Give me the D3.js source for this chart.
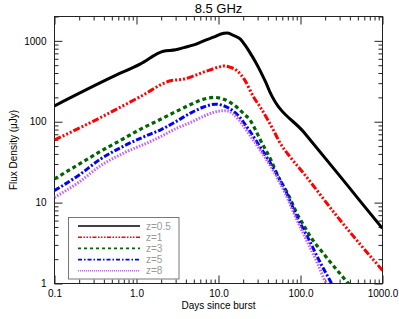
<!DOCTYPE html>
<html>
<head>
<meta charset="utf-8">
<script src="https://cdn.jsdelivr.net/npm/d3@7"></script>
<style>
  body { margin: 0; background: #fff; }
  svg { display: block; }
  text { font-family: "Liberation Sans", Arial, Helvetica, sans-serif; }
</style>
</head>
<body>
<svg id="chart" width="399" height="319"></svg>
<script>
// ---------------- data ----------------
const chartTitle = "8.5 GHz";
const xLabel = "Days since burst";
const yLabel = "Flux Density (\u03bcJy)";
const seriesLabels = ["z=0.5", "z=1", "z=3", "z=5", "z=8"];
const seriesColors = ["#000000", "#ff0000", "#006400", "#0000ff", "#c060ff"];

const xTickValues = [0.1, 1, 10, 100, 1000];
const xTickLabels = ["0.1", "1.0", "10.0", "100.0", "1000.0"];
const yTickValues = [1, 10, 100, 1000];
const yTickLabels = ["1", "10", "100", "1000"];

const days_z05 = [0.1, 0.5, 1.12, 2.13, 3.0, 3.78, 5.0, 6.6, 8.7, 11.6, 12.9, 15.4, 18.5, 21, 24.5, 28.5, 32.5, 37.5, 42, 110, 281, 540, 1000];
const flux_z05 = [157, 355, 520, 745, 775, 825, 890, 1000, 1110, 1240, 1250, 1160, 1050, 890, 700, 540, 420, 310, 238, 74, 23.3, 10.3, 4.8];

const days_z1 = [0.1, 0.3, 1.12, 2.6, 3.78, 5.2, 7.3, 10.6, 11.6, 14, 16.9, 21, 26.6, 32.5, 40, 47, 55, 75, 100, 307, 1000];
const flux_z1 = [59.5, 102, 205, 321, 337, 375, 426, 480, 490, 470, 426, 325, 205, 150, 105, 78, 57, 36.5, 25.7, 6.0, 1.45];

const days_z3 = [0.1, 0.2, 0.364, 0.7, 1.2, 2, 3, 4.56, 6, 8.8, 11.6, 14, 16.9, 20, 24.5, 28.5, 32.5, 43, 54, 72, 91, 110, 132, 184, 232, 293, 371, 430];
const flux_z3 = [19.6, 30, 43, 62, 84, 108, 133, 163, 184, 200, 190, 172, 150, 128, 103, 78, 59, 34.6, 20.5, 12.2, 7.25, 5.2, 3.8, 2.45, 1.83, 1.38, 1.04, 0.88];

const days_z5 = [0.1, 0.2, 0.364, 0.7, 1.48, 2, 3, 4.56, 6.6, 9.2, 11, 14, 18, 22.4, 32.5, 47.4, 65.6, 91, 121, 180, 240, 270];
const flux_z5 = [14.1, 22, 34.6, 50, 70.5, 80, 100, 128, 152, 165, 160, 143, 115, 85, 48, 26, 14.1, 6.6, 3.8, 1.7, 1.0, 0.8];

const days_z8 = [0.1, 0.2, 0.364, 0.7, 1.48, 2, 3, 4.56, 6.6, 9, 12.2, 15, 20.3, 25, 32.5, 47.4, 65.6, 91, 121, 160, 205, 240];
const flux_z8 = [11.6, 18, 28.6, 41, 57, 66, 82, 98, 117, 132, 137, 125, 88, 65, 44, 24, 12.8, 6.0, 3.3, 1.8, 1.0, 0.75];

const seriesDays = [days_z05, days_z1, days_z3, days_z5, days_z8];
const seriesFlux = [flux_z05, flux_z1, flux_z3, flux_z5, flux_z8];
// ---------------------------------------

const W = 399, H = 319;
const m = { left: 54.5, right: 382.5, top: 16.5, bottom: 283.5 };
const svg = d3.select("#chart");

const x = d3.scaleLog().domain([0.1, 1000]).range([m.left, m.right]);
const y = d3.scaleLog().domain([1, 2000]).range([m.bottom, m.top]);

// minor ticks
const xMinor = [];
for (let d = 0.1; d < 1000; d *= 10) for (let k = 2; k <= 9; k++) xMinor.push(+(d * k).toPrecision(3));
const yMinor = [];
for (let d = 1; d < 2000; d *= 10) for (let k = 2; k <= 9; k++) if (d * k <= 2000) yMinor.push(d * k);

const axisColor = "#222";
function styleAxis(g) {
  g.select(".domain").remove();
  g.selectAll(".tick line").attr("stroke", axisColor).attr("stroke-width", 1);
  g.selectAll(".tick text").attr("fill", "#000").style("font-size", "10px");
}

// bottom axis
svg.append("g").attr("transform", `translate(0,${m.bottom})`)
  .call(d3.axisBottom(x).tickValues(xTickValues).tickFormat((d, i) => xTickLabels[i]).tickSizeInner(-8).tickSizeOuter(0).tickPadding(6))
  .call(styleAxis);
svg.append("g").attr("transform", `translate(0,${m.bottom})`)
  .call(d3.axisBottom(x).tickValues(xMinor).tickFormat("").tickSizeInner(-4).tickSizeOuter(0))
  .call(styleAxis);
// top axis
svg.append("g").attr("transform", `translate(0,${m.top})`)
  .call(d3.axisTop(x).tickValues(xTickValues).tickFormat("").tickSizeInner(-8).tickSizeOuter(0))
  .call(styleAxis);
svg.append("g").attr("transform", `translate(0,${m.top})`)
  .call(d3.axisTop(x).tickValues(xMinor).tickFormat("").tickSizeInner(-4).tickSizeOuter(0))
  .call(styleAxis);
// left axis
svg.append("g").attr("transform", `translate(${m.left},0)`)
  .call(d3.axisLeft(y).tickValues(yTickValues).tickFormat((d, i) => yTickLabels[i]).tickSizeInner(-8).tickSizeOuter(0).tickPadding(8))
  .call(styleAxis);
svg.append("g").attr("transform", `translate(${m.left},0)`)
  .call(d3.axisLeft(y).tickValues(yMinor).tickFormat("").tickSizeInner(-4).tickSizeOuter(0))
  .call(styleAxis);
// right axis
svg.append("g").attr("transform", `translate(${m.right},0)`)
  .call(d3.axisRight(y).tickValues(yTickValues).tickFormat("").tickSizeInner(-8).tickSizeOuter(0))
  .call(styleAxis);
svg.append("g").attr("transform", `translate(${m.right},0)`)
  .call(d3.axisRight(y).tickValues(yMinor).tickFormat("").tickSizeInner(-4).tickSizeOuter(0))
  .call(styleAxis);

// frame
svg.append("rect").attr("x", m.left).attr("y", m.top)
  .attr("width", m.right - m.left).attr("height", m.bottom - m.top)
  .attr("fill", "none").attr("stroke", axisColor).attr("stroke-width", 1);

// clip
svg.append("clipPath").attr("id", "plotclip").append("rect")
  .attr("x", m.left).attr("y", m.top).attr("width", m.right - m.left).attr("height", m.bottom - m.top);

const dashes = [null, "7,2,2,2,2,2,2,2", "4,3", "6,2,2,2", "1.5,1.5"];
const widths = [3, 3, 3.2, 3, 3];
const lineGen = d3.line().x(d => x(d[0])).y(d => y(d[1])).curve(d3.curveMonotoneX);

const plot = svg.append("g").attr("clip-path", "url(#plotclip)");
seriesDays.forEach((days, i) => {
  const pts = days.map((t, j) => [t, seriesFlux[i][j]]);
  plot.append("path").datum(pts)
    .attr("d", lineGen)
    .attr("fill", "none")
    .attr("stroke", seriesColors[i])
    .attr("stroke-width", widths[i])
    .attr("stroke-dasharray", dashes[i])
    .attr("stroke-linejoin", "round");
});

// legend
const lg = svg.append("g");
lg.append("rect").attr("x", 68.5).attr("y", 217.5).attr("width", 110.5).attr("height", 61.5)
  .attr("fill", "#fff").attr("stroke", "#777").attr("stroke-width", 1);
seriesLabels.forEach((lab, i) => {
  const yy = 226 + i * 11.2;
  lg.append("line").attr("x1", 78).attr("x2", 140).attr("y1", yy).attr("y2", yy)
    .attr("stroke", seriesColors[i]).attr("stroke-width", 1.6)
    .attr("stroke-dasharray", i === 0 ? null : (i === 1 ? "4,1.5,1.5,1.5,1.5,1.5,1.5,1.5" : (i === 2 ? "3,3" : (i === 3 ? "4,2,1.5,2" : "1,1")))) ;
  lg.append("text").attr("x", 146).attr("y", yy).attr("dy", "0.35em")
    .attr("fill", "#999").style("font-size", "10px").text(lab);
});

// titles
svg.append("text").attr("x", (m.left + m.right) / 2).attr("y", 13)
  .attr("text-anchor", "middle").style("font-size", "13px").text(chartTitle);
svg.append("text").attr("x", (m.left + m.right) / 2).attr("y", 309)
  .attr("text-anchor", "middle").style("font-size", "10px").text(xLabel);
svg.append("text").attr("transform", `translate(17,${(m.top + m.bottom) / 2}) rotate(-90)`)
  .attr("text-anchor", "middle").style("font-size", "10px").text(yLabel);
</script>
</body>
</html>
